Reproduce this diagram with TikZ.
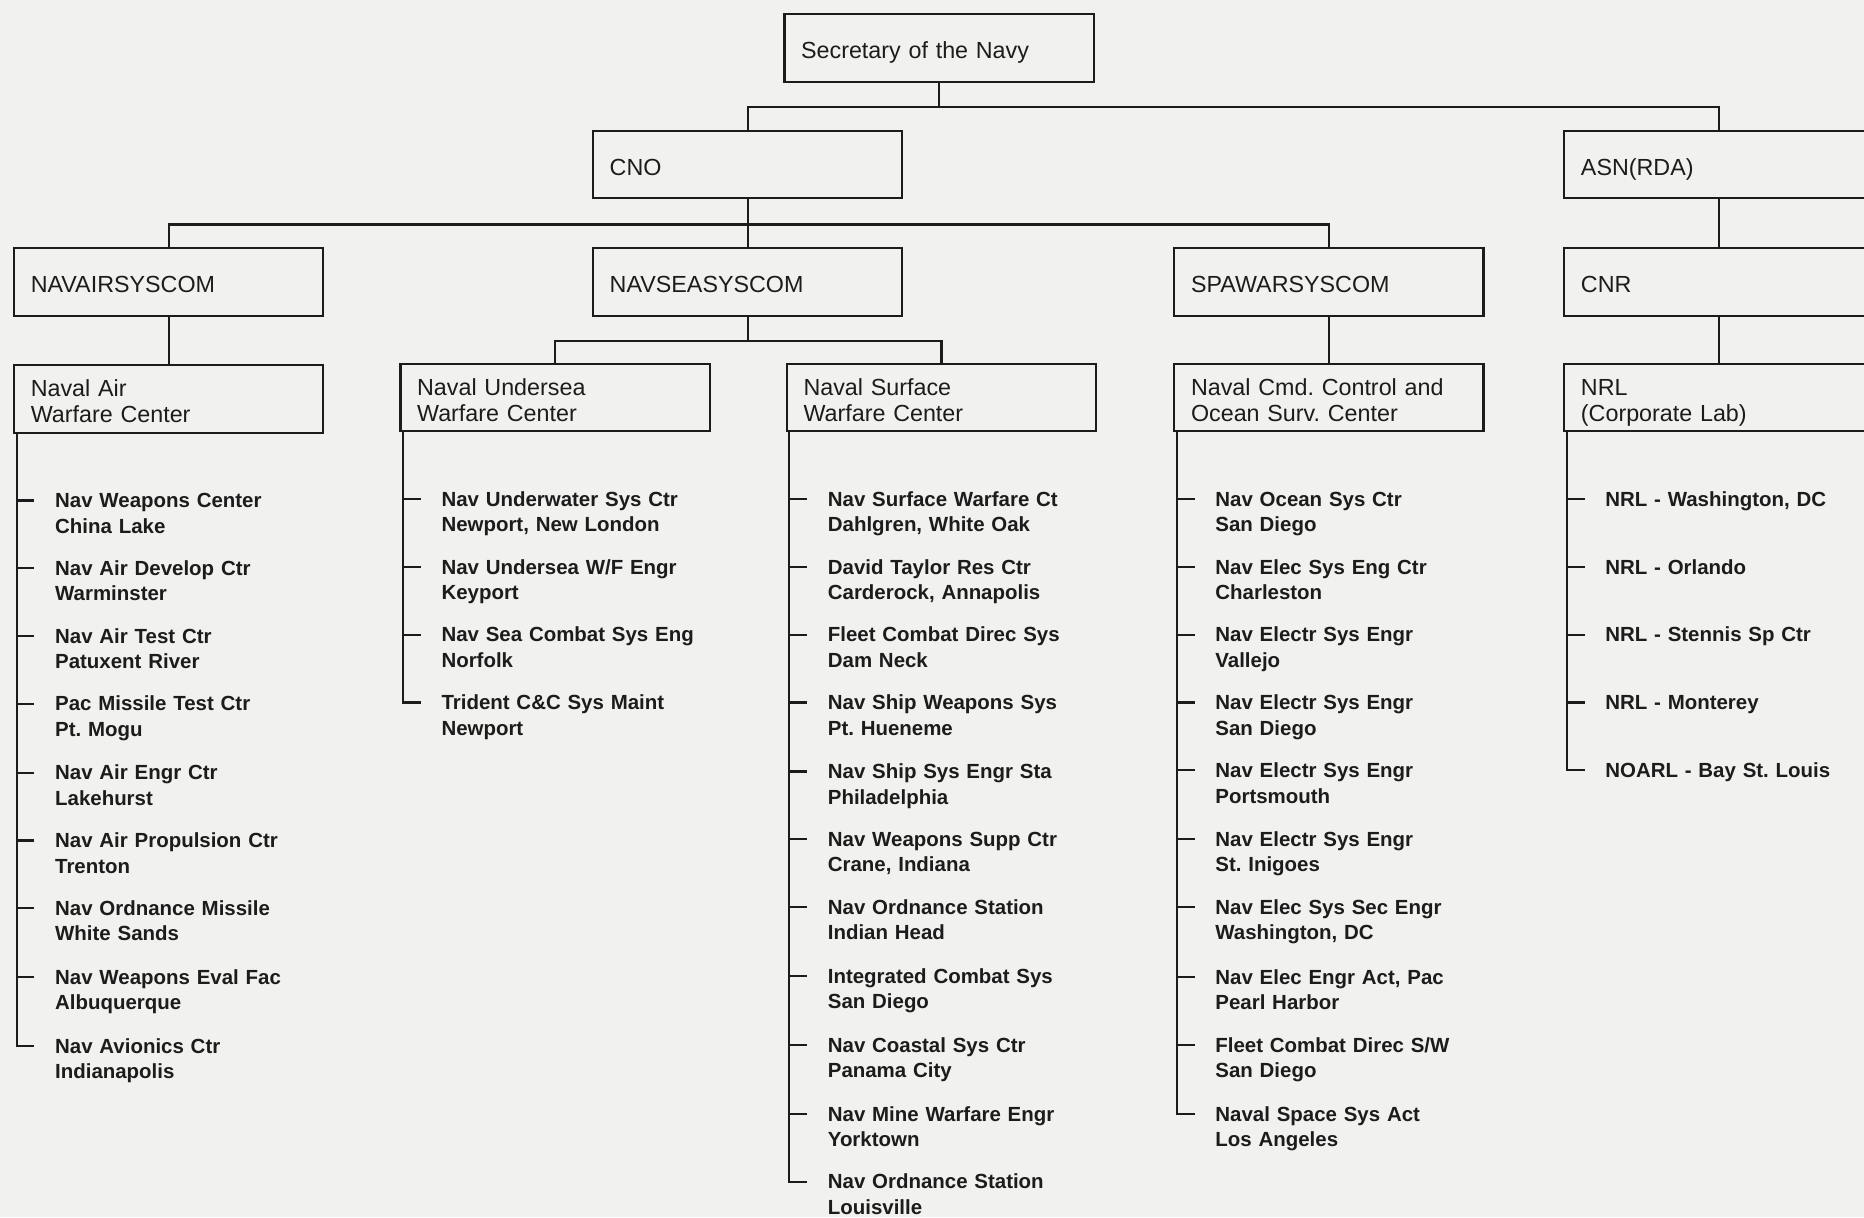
\documentclass[tikz,border=0pt]{standalone}
\usepackage{fontspec}
\setmainfont{Liberation Sans}
\frenchspacing
\definecolor{paper}{HTML}{F1F1EF}
\definecolor{ink}{HTML}{1C1C1C}
\tikzset{
    unit/.style={draw=ink, line width=0.9pt, anchor=north west,
        minimum width=130pt, minimum height=28.5pt, text width=116pt,
        inner xsep=7pt, inner ysep=0pt, align=left,
        text height=8.9pt, text depth=0pt,
        font=\fontsize{9.8}{11}\selectfont},
    twoline/.style={text depth=11pt},
    site/.style={anchor=base west, inner sep=0pt, text width=112pt, align=left,
        font=\bfseries\fontsize{8.6}{10.75}\selectfont},
    wire/.style={draw=ink, line width=0.95pt}
}
\begin{document}
\begin{tikzpicture}[x=0.5pt, y=-0.5pt, text=ink]
            \fill[paper] (0, 0) rectangle (1568, 1024);
            \useasboundingbox (0, 0) rectangle (1568, 1024);

            %%top
            \node[unit] (sec) at (659, 11){Secretary of the Navy};
            \node[unit] (cno) at (498, 109){CNO};
            \node[unit] (asn) at (1315, 109){ASN(RDA)};
                \draw[wire] (sec.south) -- ++(0, 20) -| (cno.north);
                \draw[wire] (sec.south) -- ++(0, 20) -| (asn.north);

            %%syscoms
            \node[unit] (nair) at (11, 208){NAVAIRSYSCOM};
            \node[unit] (nsea) at (498, 208){NAVSEASYSCOM};
            \node[unit] (spawar) at (987, 208){SPAWARSYSCOM};
            \node[unit] (cnr) at (1315, 208){CNR};
                \draw[wire] (cno.south) -- ++(0, 21) -| (nair.north);
                \draw[wire] (cno.south) -- ++(0, 21) -| (nsea.north);
                \draw[wire] (cno.south) -- ++(0, 21) -| (spawar.north);
                \draw[wire] (asn.south) -- (cnr.north);

            %%centers
            \node[unit, twoline] (naw) at (11, 306){Naval Air\\Warfare Center};
            \node[unit, twoline] (nuw) at (336, 305){Naval Undersea\\Warfare Center};
            \node[unit, twoline] (nsw) at (661, 305){Naval Surface\\Warfare Center};
            \node[unit, twoline] (ncc) at (987, 305){Naval Cmd. Control and\\Ocean Surv. Center};
            \node[unit, twoline] (nrl) at (1315, 305){NRL\\(Corporate Lab)};
                \draw[wire] (nair.south) -- (naw.north);
                \draw[wire] (nsea.south) -- ++(0, 20) -| (nuw.north);
                \draw[wire] (nsea.south) -- ++(0, 20) -| (nsw.north);
                \draw[wire] (spawar.south) -- (ncc.north);
                \draw[wire] (cnr.south) -- (nrl.north);

            %%air warfare
            \node[site] (air1) at (46, 427){Nav Weapons Center\\China Lake};
            \node[site] (air2) at (46, 484){Nav Air Develop Ctr\\Warminster};
            \node[site] (air3) at (46, 541){Nav Air Test Ctr\\Patuxent River};
            \node[site] (air4) at (46, 598){Pac Missile Test Ctr\\Pt. Mogu};
            \node[site] (air5) at (46, 656){Nav Air Engr Ctr\\Lakehurst};
            \node[site] (air6) at (46, 713){Nav Air Propulsion Ctr\\Trenton};
            \node[site] (air7) at (46, 770){Nav Ordnance Missile\\White Sands};
            \node[site] (air8) at (46, 828){Nav Weapons Eval Fac\\Albuquerque};
            \node[site] (air9) at (46, 886){Nav Avionics Ctr\\Indianapolis};
                \draw[wire] ([xshift=1.5pt]naw.south west) |- ([shift={(-17, -6)}]air9.base west);
                \draw[wire] ([shift={(-32, -6)}]air1.base west) -- ++(15, 0);
                \draw[wire] ([shift={(-32, -6)}]air2.base west) -- ++(15, 0);
                \draw[wire] ([shift={(-32, -6)}]air3.base west) -- ++(15, 0);
                \draw[wire] ([shift={(-32, -6)}]air4.base west) -- ++(15, 0);
                \draw[wire] ([shift={(-32, -6)}]air5.base west) -- ++(15, 0);
                \draw[wire] ([shift={(-32, -6)}]air6.base west) -- ++(15, 0);
                \draw[wire] ([shift={(-32, -6)}]air7.base west) -- ++(15, 0);
                \draw[wire] ([shift={(-32, -6)}]air8.base west) -- ++(15, 0);

            %%undersea warfare
            \node[site] (usw1) at (371, 426){Nav Underwater Sys Ctr\\Newport, New London};
            \node[site] (usw2) at (371, 483){Nav Undersea W/F Engr\\Keyport};
            \node[site] (usw3) at (371, 540){Nav Sea Combat Sys Eng\\Norfolk};
            \node[site] (usw4) at (371, 597){Trident C\&C Sys Maint\\Newport};
                \draw[wire] ([xshift=1.5pt]nuw.south west) |- ([shift={(-17, -6)}]usw4.base west);
                \draw[wire] ([shift={(-32, -6)}]usw1.base west) -- ++(15, 0);
                \draw[wire] ([shift={(-32, -6)}]usw2.base west) -- ++(15, 0);
                \draw[wire] ([shift={(-32, -6)}]usw3.base west) -- ++(15, 0);

            %%surface warfare
            \node[site] (srf1) at (696, 426){Nav Surface Warfare Ct\\Dahlgren, White Oak};
            \node[site] (srf2) at (696, 483){David Taylor Res Ctr\\Carderock, Annapolis};
            \node[site] (srf3) at (696, 540){Fleet Combat Direc Sys\\Dam Neck};
            \node[site] (srf4) at (696, 597){Nav Ship Weapons Sys\\Pt. Hueneme};
            \node[site] (srf5) at (696, 655){Nav Ship Sys Engr Sta\\Philadelphia};
            \node[site] (srf6) at (696, 712){Nav Weapons Supp Ctr\\Crane, Indiana};
            \node[site] (srf7) at (696, 769){Nav Ordnance Station\\Indian Head};
            \node[site] (srf8) at (696, 827){Integrated Combat Sys\\San Diego};
            \node[site] (srf9) at (696, 885){Nav Coastal Sys Ctr\\Panama City};
            \node[site] (srf10) at (696, 943){Nav Mine Warfare Engr\\Yorktown};
            \node[site] (srf11) at (696, 1000){Nav Ordnance Station\\Louisville};
                \draw[wire] ([xshift=1.5pt]nsw.south west) |- ([shift={(-17, -6)}]srf11.base west);
                \draw[wire] ([shift={(-32, -6)}]srf1.base west) -- ++(15, 0);
                \draw[wire] ([shift={(-32, -6)}]srf2.base west) -- ++(15, 0);
                \draw[wire] ([shift={(-32, -6)}]srf3.base west) -- ++(15, 0);
                \draw[wire] ([shift={(-32, -6)}]srf4.base west) -- ++(15, 0);
                \draw[wire] ([shift={(-32, -6)}]srf5.base west) -- ++(15, 0);
                \draw[wire] ([shift={(-32, -6)}]srf6.base west) -- ++(15, 0);
                \draw[wire] ([shift={(-32, -6)}]srf7.base west) -- ++(15, 0);
                \draw[wire] ([shift={(-32, -6)}]srf8.base west) -- ++(15, 0);
                \draw[wire] ([shift={(-32, -6)}]srf9.base west) -- ++(15, 0);
                \draw[wire] ([shift={(-32, -6)}]srf10.base west) -- ++(15, 0);

            %%command control
            \node[site] (ccs1) at (1022, 426){Nav Ocean Sys Ctr\\San Diego};
            \node[site] (ccs2) at (1022, 483){Nav Elec Sys Eng Ctr\\Charleston};
            \node[site] (ccs3) at (1022, 540){Nav Electr Sys Engr\\Vallejo};
            \node[site] (ccs4) at (1022, 597){Nav Electr Sys Engr\\San Diego};
            \node[site] (ccs5) at (1022, 654){Nav Electr Sys Engr\\Portsmouth};
            \node[site] (ccs6) at (1022, 712){Nav Electr Sys Engr\\St. Inigoes};
            \node[site] (ccs7) at (1022, 769){Nav Elec Sys Sec Engr\\Washington, DC};
            \node[site] (ccs8) at (1022, 828){Nav Elec Engr Act, Pac\\Pearl Harbor};
            \node[site] (ccs9) at (1022, 885){Fleet Combat Direc S/W\\San Diego};
            \node[site] (ccs10) at (1022, 943){Naval Space Sys Act\\Los Angeles};
                \draw[wire] ([xshift=1.5pt]ncc.south west) |- ([shift={(-17, -6)}]ccs10.base west);
                \draw[wire] ([shift={(-32, -6)}]ccs1.base west) -- ++(15, 0);
                \draw[wire] ([shift={(-32, -6)}]ccs2.base west) -- ++(15, 0);
                \draw[wire] ([shift={(-32, -6)}]ccs3.base west) -- ++(15, 0);
                \draw[wire] ([shift={(-32, -6)}]ccs4.base west) -- ++(15, 0);
                \draw[wire] ([shift={(-32, -6)}]ccs5.base west) -- ++(15, 0);
                \draw[wire] ([shift={(-32, -6)}]ccs6.base west) -- ++(15, 0);
                \draw[wire] ([shift={(-32, -6)}]ccs7.base west) -- ++(15, 0);
                \draw[wire] ([shift={(-32, -6)}]ccs8.base west) -- ++(15, 0);
                \draw[wire] ([shift={(-32, -6)}]ccs9.base west) -- ++(15, 0);

            %%research lab
            \node[site] (lab1) at (1350, 426){NRL - Washington, DC};
            \node[site] (lab2) at (1350, 483){NRL - Orlando};
            \node[site] (lab3) at (1350, 540){NRL - Stennis Sp Ctr};
            \node[site] (lab4) at (1350, 597){NRL - Monterey};
            \node[site] (lab5) at (1350, 654){NOARL - Bay St. Louis};
                \draw[wire] ([xshift=1.5pt]nrl.south west) |- ([shift={(-17, -6)}]lab5.base west);
                \draw[wire] ([shift={(-32, -6)}]lab1.base west) -- ++(15, 0);
                \draw[wire] ([shift={(-32, -6)}]lab2.base west) -- ++(15, 0);
                \draw[wire] ([shift={(-32, -6)}]lab3.base west) -- ++(15, 0);
                \draw[wire] ([shift={(-32, -6)}]lab4.base west) -- ++(15, 0);

        \end{tikzpicture}
\end{document}
